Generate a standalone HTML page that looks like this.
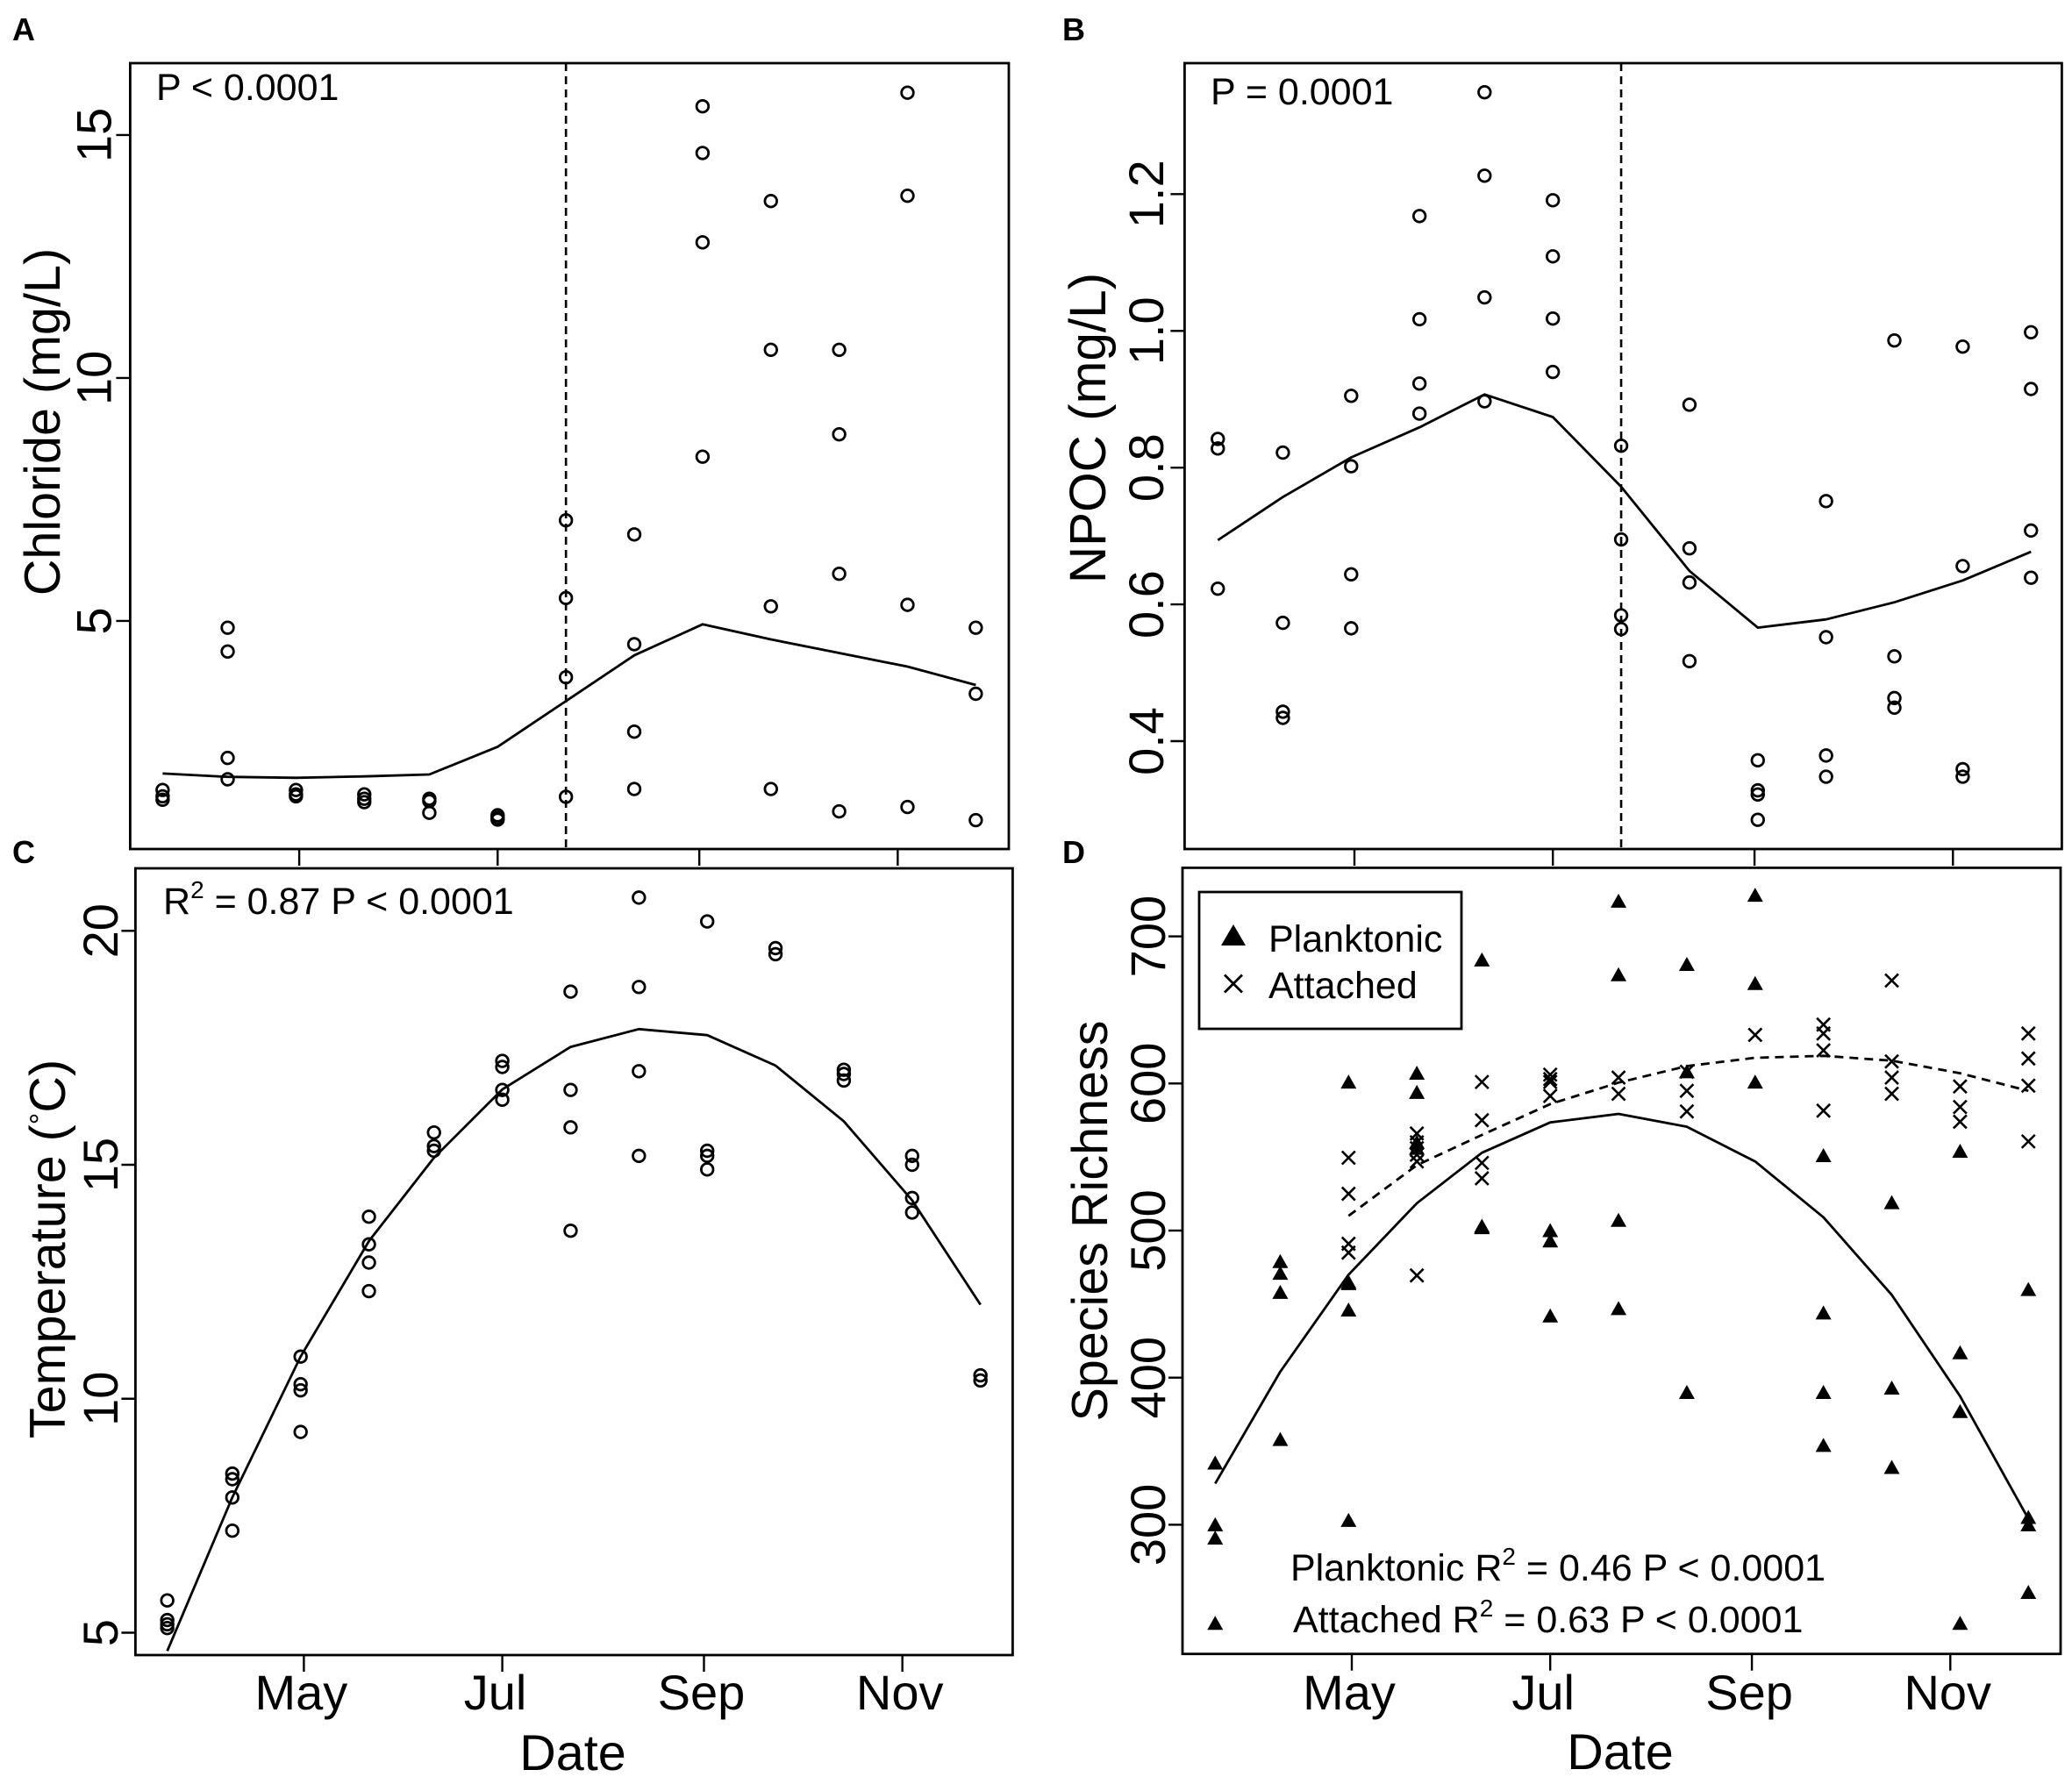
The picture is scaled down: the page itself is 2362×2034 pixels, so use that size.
<!DOCTYPE html>
<html lang="en">
<head>
<meta charset="utf-8">
<title>Seasonal chloride, NPOC, temperature and species richness</title>
<style>
  html, body { margin: 0; padding: 0; background: #fff; }
  svg { display: block; }
  text { font-family: "Liberation Sans", sans-serif; fill: #000; }
  .frame { fill: none; stroke: #000; stroke-width: 2.8; }
  .panel-letter { font-size: 36px; font-weight: bold; }
  .axis-title { font-size: 57.5px; }
  .tick-label { font-size: 56px; }
  .note { font-size: 43px; }
</style>
</head>
<body>
<svg id="figure" xmlns="http://www.w3.org/2000/svg" width="2362" height="2034" viewBox="0 0 2362 2034">
  <rect x="0" y="0" width="2362" height="2034" fill="#fff"/>

  <g id="panel-a"></g>
  <g id="panel-b"></g>
  <g id="panel-c"></g>
  <g id="panel-d"></g>

  <text class="panel-letter" x="14" y="46">A</text>
  <text class="panel-letter" x="1211" y="46">B</text>
  <text class="panel-letter" x="14" y="984">C</text>
  <text class="panel-letter" x="1211" y="984">D</text>

  <text class="axis-title" text-anchor="middle" transform="translate(68 481) rotate(-90)">Chloride (mg/L)</text>
  <text class="axis-title" style="font-size:58.5px" text-anchor="middle" transform="translate(1260 488) rotate(-90)">NPOC (mg/L)</text>
  <text class="axis-title" text-anchor="middle" transform="translate(74 1424) rotate(-90)">Temperature (<tspan font-size="34" dy="-16">°</tspan><tspan dy="16">C)</tspan></text>
  <text class="axis-title" text-anchor="middle" transform="translate(1262 1392) rotate(-90)">Species Richness</text>

  <text class="axis-title" text-anchor="middle" x="653" y="2018">Date</text>
  <text class="axis-title" text-anchor="middle" x="1847" y="2017">Date</text>

  <text class="note" x="178" y="114">P &lt; 0.0001</text>
  <text class="note" x="1380" y="119">P = 0.0001</text>
  <text class="note" x="186" y="1042">R<tspan font-size="28" dy="-18">2</tspan><tspan dy="18"> = 0.87 P &lt; 0.0001</tspan></text>
  <text class="note" x="1471" y="1802">Planktonic R<tspan font-size="28" dy="-18">2</tspan><tspan dy="18"> = 0.46 P &lt; 0.0001</tspan></text>
  <text class="note" x="1474" y="1861">Attached R<tspan font-size="28" dy="-18">2</tspan><tspan dy="18"> = 0.63 P &lt; 0.0001</tspan></text>

  <g>
    <rect class="frame" x="1367" y="1017" width="299" height="156" fill="#fff"/>
    <polygon points="1406,1054 1420,1078 1392,1078" fill="#000"/>
    <path d="M1396 1111.500 L1416 1131.500 M1416 1111.500 L1396 1131.500" stroke="#000" stroke-width="2.800" fill="none"/>
    <text class="note" x="1446" y="1085">Planktonic</text>
    <text class="note" x="1446" y="1138">Attached</text>
  </g>
</svg>

<script>
// Sampling dates as day of year
const sampleDays = [79, 99, 120, 141, 161, 182, 203, 224, 245, 266, 287, 308, 329];
const attachedDays = [120, 141, 161, 182, 203, 224, 245, 266, 287, 308, 329];

// Month ticks
const monthDays = [121, 182, 244, 305];
const monthLabels = ['May', 'Jul', 'Sep', 'Nov'];

// Y-axis ticks
const chlorideTicks = [5, 10, 15];
const npocTicks = [0.4, 0.6, 0.8, 1.0, 1.2];
const temperatureTicks = [5, 10, 15, 20];
const richnessTicks = [300, 400, 500, 600, 700];

// Panel A: chloride (mg/L)
const chlorideObserved = [
  [1.52, 1.39, 1.32], [4.86, 4.37, 2.18, 1.74], [1.52, 1.43, 1.39], [1.43, 1.34, 1.27],
  [1.34, 1.29, 1.05], [1.0, 0.95, 0.91], [7.07, 5.47, 3.84, 1.38], [6.78, 4.52, 2.72, 1.54],
  [15.59, 14.63, 12.79, 8.38], [13.64, 10.58, 5.30, 1.54], [10.58, 8.84, 5.97, 1.08],
  [15.87, 13.75, 5.33, 1.17], [4.86, 3.50, 0.90]
];
const chlorideFit = [1.86, 1.79, 1.77, 1.80, 1.84, 2.41, 3.35, 4.29, 4.93, 4.62, 4.34, 4.06, 3.68];

// Panel B: NPOC (mg/L)
const npocObserved = [
  [0.842, 0.828, 0.623], [0.822, 0.573, 0.443, 0.434], [0.905, 0.802, 0.644, 0.565],
  [1.168, 1.017, 0.923, 0.879], [1.349, 1.227, 1.049, 0.897], [1.191, 1.109, 1.018, 0.940],
  [0.832, 0.695, 0.584, 0.564], [0.892, 0.682, 0.632, 0.517], [0.372, 0.328, 0.322, 0.285],
  [0.751, 0.552, 0.379, 0.348], [0.986, 0.524, 0.463, 0.449], [0.977, 0.656, 0.359, 0.348],
  [0.998, 0.915, 0.708, 0.639]
];
const npocFit = [0.694, 0.757, 0.815, 0.859, 0.907, 0.874, 0.772, 0.649, 0.566, 0.578, 0.603, 0.635, 0.677];

// Panel C: temperature (°C)
const temperatureObserved = [
  [5.69, 5.27, 5.18, 5.10], [8.40, 8.28, 7.89, 7.18], [10.90, 10.31, 10.18, 9.29],
  [13.89, 13.30, 12.91, 12.30], [15.69, 15.40, 15.30], [17.22, 17.09, 16.60, 16.39],
  [18.70, 16.60, 15.80, 13.59], [20.71, 18.80, 17.00, 15.19], [20.20, 15.30, 15.19, 14.90],
  [19.63, 19.50], [17.03, 16.94, 16.80], [15.19, 15.0, 14.29, 13.98], [10.50, 10.39]
];
const temperatureFit = [4.61, 7.89, 10.90, 13.37, 15.15, 16.61, 17.52, 17.90, 17.77, 17.12, 15.93, 14.24, 12.01];

// Panel D: species richness
const planktonicObserved = [
  [342, 300, 291, 233], [479, 471, 458, 358], [601, 465, 464, 446, 303], [607, 594, 560, 556],
  [684, 503, 502], [500, 493, 442], [724, 674, 507, 447], [681, 608, 390], [728, 668, 601],
  [551, 444, 390, 354], [519, 393, 339], [554, 417, 377, 233], [460, 305, 300, 254]
];
const planktonicFit = [328, 404, 470, 518.6, 552.9, 573.5, 579.3, 570.6, 547, 509, 456.3, 387.4, 304];
const attachedObserved = [
  [549.5, 525, 491, 485], [566, 560, 556, 551.5, 547, 469.5], [601, 575, 546, 535.5],
  [606, 603, 601, 591.5], [604, 593], [608, 595, 581], [633], [640, 634, 622.5, 581.5],
  [670, 615, 604, 593], [598, 584, 574], [634, 617, 598.5, 560.6]
];
const attachedFit = [510, 544.5, 565, 586, 600.6, 611.8, 617.5, 618.8, 615.5, 607, 595];

// Vertical reference date for panels A and B
const breakDay = 203;

const SVG_NS = 'http://www.w3.org/2000/svg';
const PX_PER_DAY = 3.708;

function makeAxes(left, right, top, bottom, mayPx, refValue, refPx, pxPerUnit) {
  return {
    left, right, top, bottom,
    x: function (day) { return mayPx + (day - monthDays[0]) * PX_PER_DAY; },
    y: function (value) { return refPx - (value - refValue) * pxPerUnit; }
  };
}

const axesA = makeAxes(148.4, 1150, 72, 968, 341.1, 5, 707.9, 55.4);
const axesB = makeAxes(1350.4, 2350.4, 72, 968, 1544, 0.4, 845, 779.6);
const axesC = makeAxes(154.4, 1154.4, 990, 1887, 346.4, 5, 1861.5, 53.35);
const axesD = makeAxes(1348, 2349, 989.4, 1885.7, 1541, 300, 1738.4, 1.677);

function svgEl(tag, attrs, parent) {
  const node = document.createElementNS(SVG_NS, tag);
  Object.keys(attrs).forEach(function (key) { node.setAttribute(key, attrs[key]); });
  parent.appendChild(node);
  return node;
}

function drawFrame(g, axes) {
  const frame = svgEl('rect', {
    class: 'frame', x: axes.left, y: axes.top,
    width: axes.right - axes.left, height: axes.bottom - axes.top
  }, g);
  
  
}

function labelNudge(text) {
  return text === 'Jul' ? -8 : -3;
}

function drawXAxis(g, axes, showLabels) {
  monthDays.forEach(function (day, i) {
    const px = axes.x(day);
    const tick = svgEl('line', {
      x1: px, x2: px, y1: axes.bottom, y2: axes.bottom + 19, stroke: '#000', 'stroke-width': 2.4
    }, g);
    
    
    if (showLabels) {
      const label = svgEl('text', {
        class: 'tick-label', x: px + labelNudge(monthLabels[i]), y: 1949, 'text-anchor': 'middle'
      }, g);
      
      
      label.textContent = monthLabels[i];
    }
  });
}

function drawYAxis(g, axes, ticks, decimals, labelBaseline) {
  ticks.forEach(function (value) {
    const py = axes.y(value);
    const tick = svgEl('line', {
      x1: axes.left - 16, x2: axes.left, y1: py, y2: py, stroke: '#000', 'stroke-width': 2.4
    }, g);
    
    
    const label = svgEl('text', {
      class: 'tick-label', 'text-anchor': 'middle',
      transform: 'translate(' + labelBaseline + ' ' + py + ') rotate(-90)'
    }, g);
    
    
    label.textContent = value.toFixed(decimals);
  });
}

function drawFit(g, axes, days, values, dashed, name) {
  const pts = days.map(function (day, i) {
    return axes.x(day).toFixed(1) + ',' + axes.y(values[i]).toFixed(1);
  }).join(' ');
  const line = svgEl('polyline', {
    points: pts, fill: 'none', stroke: '#000', 'stroke-width': 2.8,
    'stroke-dasharray': dashed ? '10 7' : 'none', 'stroke-linejoin': 'round'
  }, g);
  
  
}

function drawBreak(g, axes) {
  const px = axes.x(breakDay);
  const line = svgEl('line', {
    x1: px, x2: px, y1: axes.top, y2: axes.bottom,
    stroke: '#000', 'stroke-width': 2.6, 'stroke-dasharray': '9 6'
  }, g);
  
  
}

function drawCircles(g, axes, days, observed, name) {
  days.forEach(function (day, i) {
    observed[i].forEach(function (value) {
      const c = svgEl('circle', {
        cx: axes.x(day), cy: axes.y(value), r: 6.8, fill: 'none', stroke: '#000', 'stroke-width': 2.8
      }, g);
      
      
    });
  });
}

function drawTriangles(g, axes, days, observed, name) {
  days.forEach(function (day, i) {
    observed[i].forEach(function (value) {
      const px = axes.x(day);
      const py = axes.y(value);
      const t = svgEl('polygon', {
        points: px + ',' + (py - 8.5) + ' ' + (px + 9) + ',' + (py + 7.5) + ' ' + (px - 9) + ',' + (py + 7.5),
        fill: '#000'
      }, g);
      
      
    });
  });
}

function drawCrosses(g, axes, days, observed, name) {
  days.forEach(function (day, i) {
    observed[i].forEach(function (value) {
      const px = axes.x(day);
      const py = axes.y(value);
      const s = 7.5;
      const m = svgEl('path', {
        d: 'M' + (px - s) + ' ' + (py - s) + ' L' + (px + s) + ' ' + (py + s) +
           ' M' + (px + s) + ' ' + (py - s) + ' L' + (px - s) + ' ' + (py + s),
        fill: 'none', stroke: '#000', 'stroke-width': 2.6
      }, g);
      
      
    });
  });
}

const gA = document.getElementById('panel-a');
drawXAxis(gA, axesA, false);
drawYAxis(gA, axesA, chlorideTicks, 0, 126.5);
drawBreak(gA, axesA);
drawFit(gA, axesA, sampleDays, chlorideFit, false, 'chloride-fit-line');
drawCircles(gA, axesA, sampleDays, chlorideObserved, 'chloride-point');
drawFrame(gA, axesA);

const gB = document.getElementById('panel-b');
drawXAxis(gB, axesB, false);
drawYAxis(gB, axesB, npocTicks, 1, 1326);
drawBreak(gB, axesB);
drawFit(gB, axesB, sampleDays, npocFit, false, 'npoc-fit-line');
drawCircles(gB, axesB, sampleDays, npocObserved, 'npoc-point');
drawFrame(gB, axesB);

const gC = document.getElementById('panel-c');
drawXAxis(gC, axesC, true);
drawYAxis(gC, axesC, temperatureTicks, 0, 134);
drawFit(gC, axesC, sampleDays, temperatureFit, false, 'temperature-fit-line');
drawCircles(gC, axesC, sampleDays, temperatureObserved, 'temperature-point');
drawFrame(gC, axesC);

const gD = document.getElementById('panel-d');
drawXAxis(gD, axesD, true);
drawYAxis(gD, axesD, richnessTicks, 0, 1328);
drawFit(gD, axesD, sampleDays, planktonicFit, false, 'planktonic-fit-line');
drawFit(gD, axesD, attachedDays, attachedFit, true, 'attached-fit-line');
drawTriangles(gD, axesD, sampleDays, planktonicObserved, 'planktonic-point');
drawCrosses(gD, axesD, attachedDays, attachedObserved, 'attached-point');
drawFrame(gD, axesD);
</script>
</body>
</html>
